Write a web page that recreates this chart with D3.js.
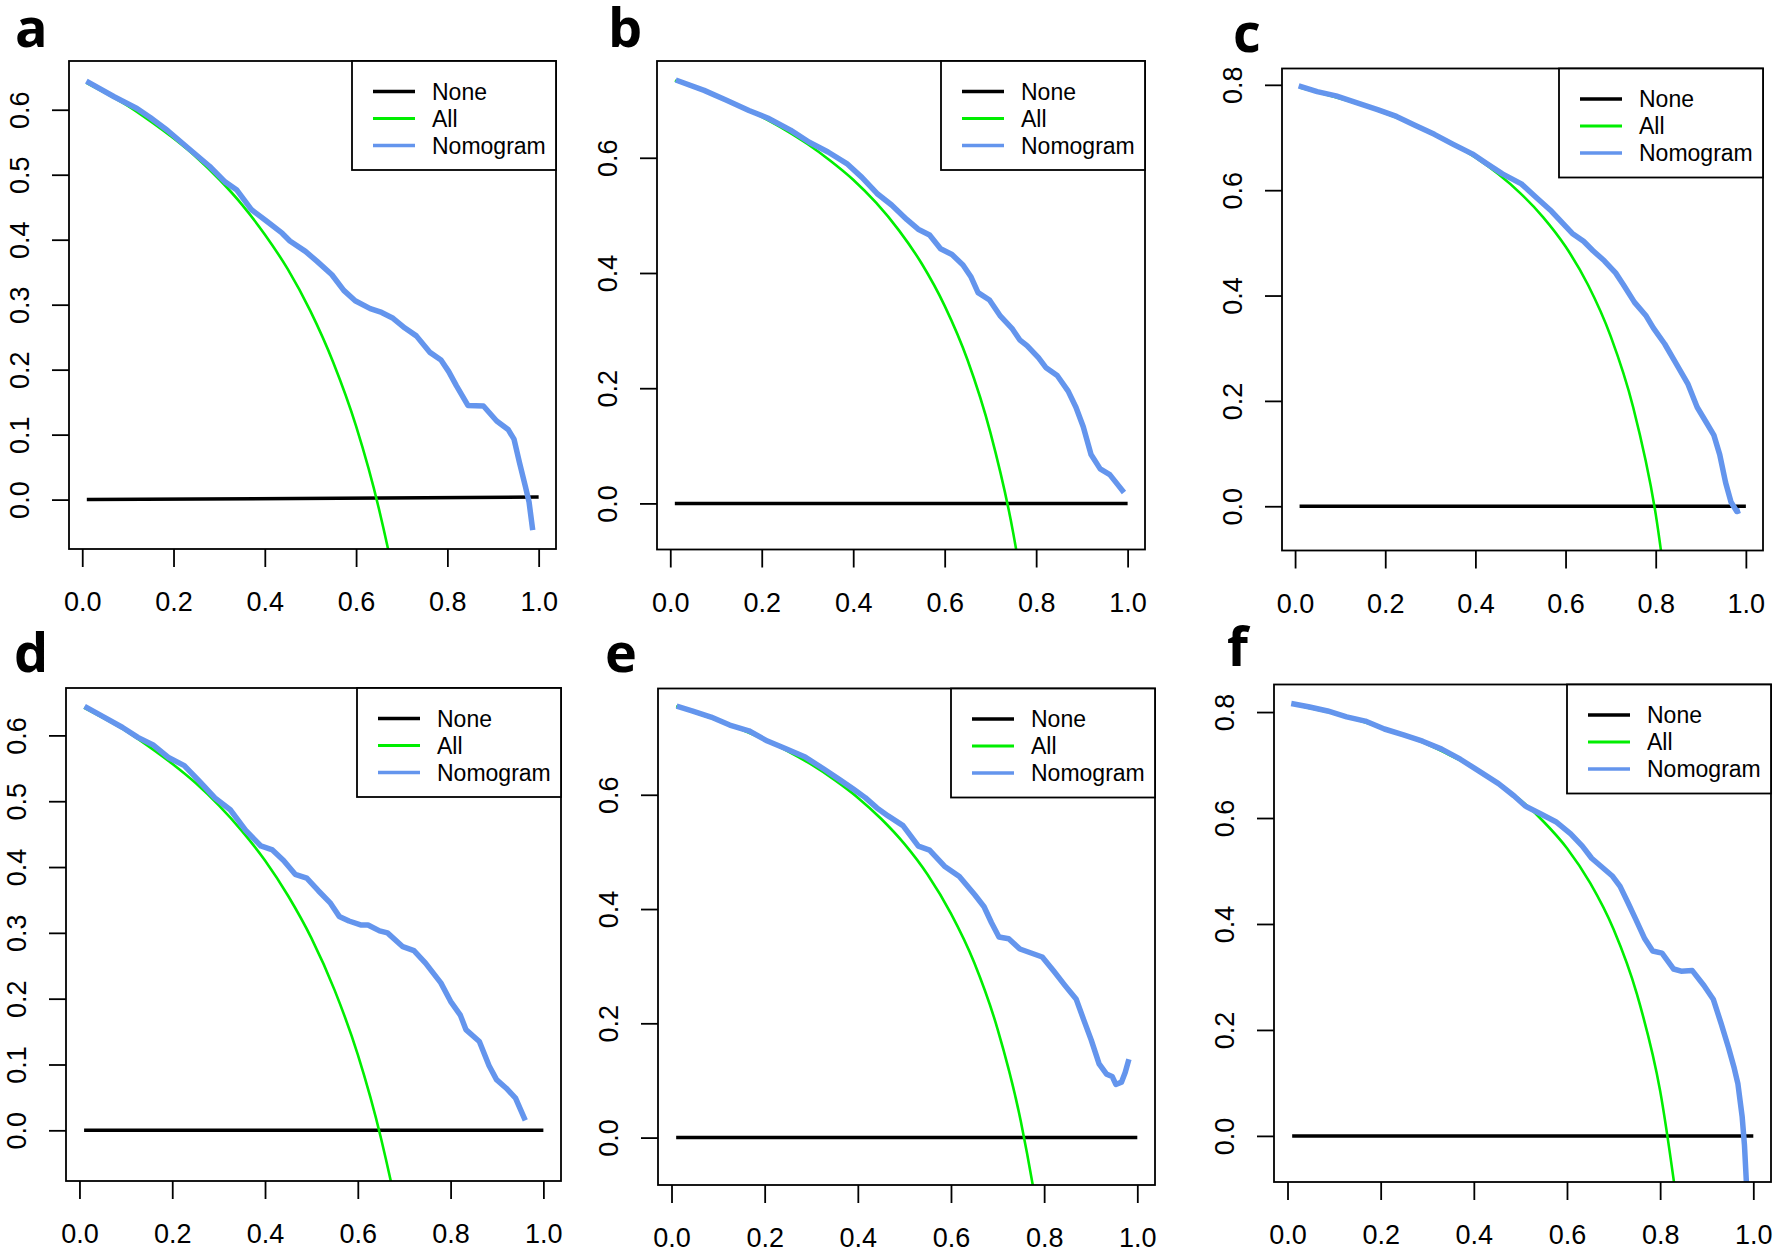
<!DOCTYPE html>
<html lang="en">
<head>
  <meta charset="UTF-8">
  <title>Decision curves a-f</title>
  <style>
    body {
      margin: 0;
      padding: 0;
      background: #fff;
    }

    svg {
      display: block;
    }

    .tick-label {
      font-family: "Liberation Sans", Arial, sans-serif;
      font-size: 27px;
      fill: #000;
    }

    .legend-text {
      font-family: "Liberation Sans", Arial, sans-serif;
      font-size: 23px;
      fill: #000;
    }

    .panel-letter {
      font-family: "Open Sans", sans-serif;
      font-size: 54px;
      font-weight: 700;
      fill: #000;
    }
  </style>
</head>
<body>
  <svg id="chart" width="1774" height="1253"></svg>

  <script src="https://d3js.org/d3.v7.min.js"></script>
  <script>
    // ---- data ----
    const panelLetters = ["a", "b", "c", "d", "e", "f"];
    const legendLabels = ["None", "All", "Nomogram"];

    const xRange = [-0.029, 1.038];
    const xTicks = [0, 0.2, 0.4, 0.6, 0.8, 1.0];

    const yRangeA = [-0.076, 0.675];
    const yRangeB = [-0.080, 0.768];
    const yRangeC = [-0.084, 0.831];
    const yRangeD = [-0.077, 0.672];
    const yRangeE = [-0.083, 0.786];
    const yRangeF = [-0.087, 0.852];

    const yTicksTenths = [0, 0.1, 0.2, 0.3, 0.4, 0.5, 0.6];
    const yTicksB = [0, 0.2, 0.4, 0.6];
    const yTicksC = [0, 0.2, 0.4, 0.6, 0.8];

    // treat-none line
    const noneA = [[0.01, 0], [1.0, 0.004]];
    const noneFlat = [[0.01, 0], [1.0, 0]];

    // treat-all curves, sampled at these thresholds
    const allThresholds = [0.01, 0.05, 0.1, 0.15, 0.2, 0.25, 0.3, 0.35, 0.4, 0.45,
                           0.5, 0.55, 0.6, 0.65, 0.7, 0.75, 0.8, 0.85];
    const allA = [0.641, 0.626, 0.606, 0.582, 0.556, 0.527, 0.493, 0.454, 0.408, 0.355,
                  0.290, 0.211, 0.113, -0.014, -0.183, -0.420, -0.775, -1.367];
    const allB = [0.734, 0.723, 0.708, 0.691, 0.671, 0.649, 0.624, 0.595, 0.562, 0.522,
                  0.474, 0.416, 0.343, 0.249, 0.123, -0.052, -0.315, -0.753];
    const allC = [0.795, 0.786, 0.774, 0.761, 0.746, 0.729, 0.710, 0.688, 0.662, 0.631,
                  0.594, 0.549, 0.493, 0.420, 0.323, 0.188, -0.015, -0.353];
    const allD = [0.642, 0.627, 0.607, 0.583, 0.557, 0.528, 0.494, 0.455, 0.410, 0.356,
                  0.292, 0.213, 0.115, -0.012, -0.180, -0.416, -0.770, -1.360];
    const allE = [0.755, 0.744, 0.730, 0.714, 0.696, 0.676, 0.653, 0.626, 0.595, 0.558,
                  0.514, 0.460, 0.392, 0.306, 0.190, 0.028, -0.215, -0.620];
    const allF = [0.815, 0.807, 0.797, 0.785, 0.771, 0.756, 0.739, 0.718, 0.695, 0.667,
                  0.634, 0.593, 0.543, 0.477, 0.390, 0.268, 0.085, -0.220];

    // nomogram curves [threshold, net benefit]
    const nomogramA = [[0.009, 0.644], [0.07, 0.620], [0.12, 0.602], [0.149, 0.588], [0.187, 0.568],
      [0.237, 0.538], [0.279, 0.513], [0.313, 0.489], [0.338, 0.477], [0.371, 0.446], [0.405, 0.428],
      [0.438, 0.410], [0.455, 0.398], [0.489, 0.382], [0.514, 0.367], [0.547, 0.346], [0.573, 0.322],
      [0.598, 0.306], [0.631, 0.294], [0.656, 0.288], [0.681, 0.279], [0.707, 0.264], [0.732, 0.252],
      [0.761, 0.227], [0.786, 0.215], [0.803, 0.197], [0.820, 0.175], [0.845, 0.145], [0.879, 0.144],
      [0.908, 0.121], [0.933, 0.108], [0.946, 0.093], [0.958, 0.057], [0.971, 0.020], [0.979, -0.004],
      [0.987, -0.047]];
    const nomogramB = [[0.012, 0.735], [0.074, 0.717], [0.123, 0.700], [0.172, 0.682], [0.213, 0.669],
      [0.263, 0.648], [0.304, 0.627], [0.345, 0.610], [0.386, 0.590], [0.419, 0.566], [0.452, 0.538],
      [0.484, 0.518], [0.517, 0.493], [0.542, 0.476], [0.567, 0.466], [0.591, 0.442], [0.616, 0.432],
      [0.640, 0.414], [0.657, 0.394], [0.673, 0.366], [0.698, 0.353], [0.722, 0.325], [0.747, 0.304],
      [0.764, 0.284], [0.780, 0.274], [0.805, 0.253], [0.821, 0.236], [0.846, 0.222], [0.870, 0.195],
      [0.887, 0.167], [0.903, 0.133], [0.920, 0.085], [0.940, 0.060], [0.961, 0.050], [0.981, 0.030],
      [0.992, 0.019]];
    const nomogramC = [[0.008, 0.798], [0.049, 0.787], [0.091, 0.779], [0.141, 0.765], [0.183, 0.753],
      [0.225, 0.740], [0.267, 0.723], [0.309, 0.706], [0.351, 0.687], [0.393, 0.669], [0.426, 0.650],
      [0.460, 0.631], [0.502, 0.612], [0.535, 0.586], [0.569, 0.560], [0.594, 0.537], [0.615, 0.518],
      [0.640, 0.503], [0.661, 0.485], [0.686, 0.466], [0.711, 0.443], [0.728, 0.421], [0.753, 0.387],
      [0.779, 0.361], [0.795, 0.338], [0.820, 0.308], [0.846, 0.270], [0.871, 0.233], [0.892, 0.188],
      [0.913, 0.158], [0.929, 0.135], [0.942, 0.098], [0.955, 0.045], [0.967, 0.008], [0.980, -0.010],
      [0.987, -0.008]];
    const nomogramD = [[0.011, 0.644], [0.052, 0.628], [0.093, 0.612], [0.126, 0.597], [0.160, 0.585],
      [0.193, 0.566], [0.226, 0.554], [0.259, 0.530], [0.292, 0.505], [0.325, 0.487], [0.358, 0.456],
      [0.391, 0.432], [0.416, 0.426], [0.440, 0.410], [0.465, 0.389], [0.490, 0.383], [0.515, 0.364],
      [0.540, 0.346], [0.560, 0.325], [0.581, 0.318], [0.606, 0.312], [0.622, 0.312], [0.647, 0.303],
      [0.664, 0.300], [0.697, 0.279], [0.721, 0.273], [0.746, 0.254], [0.779, 0.224], [0.800, 0.196],
      [0.821, 0.175], [0.833, 0.153], [0.862, 0.135], [0.883, 0.098], [0.899, 0.077], [0.920, 0.064],
      [0.940, 0.049], [0.961, 0.015]];
    const nomogramE = [[0.011, 0.755], [0.044, 0.747], [0.085, 0.736], [0.125, 0.722], [0.166, 0.712],
      [0.206, 0.694], [0.247, 0.680], [0.287, 0.666], [0.327, 0.645], [0.360, 0.627], [0.392, 0.609],
      [0.416, 0.595], [0.441, 0.577], [0.465, 0.563], [0.497, 0.546], [0.530, 0.510], [0.554, 0.503],
      [0.586, 0.475], [0.618, 0.457], [0.651, 0.425], [0.671, 0.404], [0.687, 0.376], [0.703, 0.351],
      [0.724, 0.348], [0.748, 0.330], [0.772, 0.323], [0.796, 0.316], [0.821, 0.291], [0.845, 0.266],
      [0.869, 0.242], [0.885, 0.206], [0.901, 0.171], [0.918, 0.129], [0.934, 0.111], [0.946, 0.107],
      [0.954, 0.093], [0.966, 0.097], [0.974, 0.114], [0.982, 0.137]];
    const nomogramF = [[0.008, 0.816], [0.045, 0.810], [0.086, 0.802], [0.127, 0.791], [0.167, 0.783],
      [0.208, 0.768], [0.249, 0.757], [0.290, 0.745], [0.331, 0.730], [0.371, 0.711], [0.412, 0.688],
      [0.453, 0.665], [0.486, 0.642], [0.510, 0.623], [0.543, 0.608], [0.576, 0.593], [0.608, 0.570],
      [0.633, 0.547], [0.653, 0.524], [0.673, 0.509], [0.698, 0.490], [0.714, 0.471], [0.731, 0.440],
      [0.747, 0.410], [0.767, 0.372], [0.784, 0.349], [0.804, 0.345], [0.829, 0.315], [0.845, 0.311],
      [0.869, 0.312], [0.894, 0.284], [0.914, 0.258], [0.931, 0.212], [0.947, 0.166], [0.959, 0.128],
      [0.967, 0.098], [0.976, 0.037], [0.981, -0.017], [0.985, -0.085], [0.988, -0.131]];

    // ---- layout (pixel boxes of the six plot regions) ----
    const layout = [
      { x0: 69,   y0: 61,    x1: 556,  y1: 549,    lx: 15,   ly: 47 },
      { x0: 657,  y0: 61,    x1: 1145, y1: 549.5,  lx: 608,  ly: 47 },
      { x0: 1282, y0: 68.5,  x1: 1763, y1: 550.5,  lx: 1233, ly: 51.5 },
      { x0: 66,   y0: 688,   x1: 561,  y1: 1181,   lx: 14,   ly: 672 },
      { x0: 658,  y0: 688.5, x1: 1155, y1: 1185,   lx: 605,  ly: 672 },
      { x0: 1274, y0: 684.5, x1: 1771, y1: 1182,   lx: 1227, ly: 666 }
    ];

    const panels = [
      { yRange: yRangeA, yTicks: yTicksTenths, none: noneA,    all: allA, nomo: nomogramA },
      { yRange: yRangeB, yTicks: yTicksB,      none: noneFlat, all: allB, nomo: nomogramB },
      { yRange: yRangeC, yTicks: yTicksC,      none: noneFlat, all: allC, nomo: nomogramC },
      { yRange: yRangeD, yTicks: yTicksTenths, none: noneFlat, all: allD, nomo: nomogramD },
      { yRange: yRangeE, yTicks: yTicksB,      none: noneFlat, all: allE, nomo: nomogramE },
      { yRange: yRangeF, yTicks: yTicksC,      none: noneFlat, all: allF, nomo: nomogramF }
    ];

    const colNone = "#000000";
    const colAll = "#00EE00";
    const colNomo = "#6495ED";

    const svg = d3.select("#chart");
    const fmt = d3.format(".1f");

    panels.forEach(function (p, i) {
      const box = layout[i];
      const g = svg.append("g").attr("class", "panel");

      const x = d3.scaleLinear().domain(xRange).range([box.x0, box.x1]);
      const y = d3.scaleLinear().domain(p.yRange).range([box.y1, box.y0]);

      svg.append("clipPath").attr("id", "clip" + i)
        .append("rect")
        .attr("x", box.x0).attr("y", box.y0)
        .attr("width", box.x1 - box.x0).attr("height", box.y1 - box.y0);

      const lines = g.append("g").attr("clip-path", "url(#clip" + i + ")");

      const straight = d3.line().x(d => x(d[0])).y(d => y(d[1]));
      const smooth = d3.line().x(d => x(d[0])).y(d => y(d[1])).curve(d3.curveMonotoneX);

      lines.append("path")
        .datum(p.none)
        .attr("d", straight)
        .attr("fill", "none")
        .attr("stroke", colNone)
        .attr("stroke-width", 3.5);

      lines.append("path")
        .datum(allThresholds.map((t, k) => [t, p.all[k]]))
        .attr("d", smooth)
        .attr("fill", "none")
        .attr("stroke", colAll)
        .attr("stroke-width", 2.6);

      lines.append("path")
        .datum(p.nomo)
        .attr("d", straight)
        .attr("fill", "none")
        .attr("stroke", colNomo)
        .attr("stroke-width", 5.5)
        .attr("stroke-linejoin", "round");

      // plot box
      g.append("rect")
        .attr("x", box.x0).attr("y", box.y0)
        .attr("width", box.x1 - box.x0).attr("height", box.y1 - box.y0)
        .attr("fill", "none")
        .attr("stroke", "#000")
        .attr("stroke-width", 1.8);

      // x axis
      const xAxis = d3.axisBottom(x)
        .tickValues(xTicks)
        .tickSize(18)
        .tickSizeOuter(0)
        .tickPadding(25)
        .tickFormat(fmt);

      const gx = g.append("g")
        .attr("transform", "translate(0," + box.y1 + ")")
        .call(xAxis);
      gx.select(".domain").remove();
      gx.selectAll(".tick line").attr("stroke-width", 1.8);
      gx.selectAll(".tick text").attr("class", "tick-label");

      // y axis, labels turned to read upward
      const yAxis = d3.axisLeft(y)
        .tickValues(p.yTicks)
        .tickSize(17)
        .tickSizeOuter(0)
        .tickFormat(fmt);

      const gy = g.append("g")
        .attr("transform", "translate(" + box.x0 + ",0)")
        .call(yAxis);
      gy.select(".domain").remove();
      gy.selectAll(".tick line").attr("stroke-width", 1.8);
      gy.selectAll(".tick text")
        .attr("class", "tick-label")
        .attr("transform", "rotate(-90)")
        .attr("x", 0)
        .attr("y", -40)
        .attr("dy", null)
        .attr("text-anchor", "middle");

      // legend
      const lw = 204, lh = 109;
      const lg = g.append("g")
        .attr("transform", "translate(" + (box.x1 - lw) + "," + box.y0 + ")");
      lg.append("rect")
        .attr("width", lw).attr("height", lh)
        .attr("fill", "#fff")
        .attr("stroke", "#000")
        .attr("stroke-width", 1.8);

      const legendCols = [colNone, colAll, colNomo];
      const legendWidths = [3.5, 3, 3.5];
      legendLabels.forEach(function (lab, k) {
        const ly = 30.5 + k * 27;
        lg.append("line")
          .attr("x1", 21).attr("x2", 63)
          .attr("y1", ly).attr("y2", ly)
          .attr("stroke", legendCols[k])
          .attr("stroke-width", legendWidths[k]);
        lg.append("text")
          .attr("class", "legend-text")
          .attr("x", 80)
          .attr("y", ly)
          .attr("dy", "0.36em")
          .text(lab);
      });

      // panel letter
      svg.append("text")
        .attr("class", "panel-letter")
        .attr("x", box.lx)
        .attr("y", box.ly)
        .text(panelLetters[i]);
    });
  </script>
</body>
</html>
